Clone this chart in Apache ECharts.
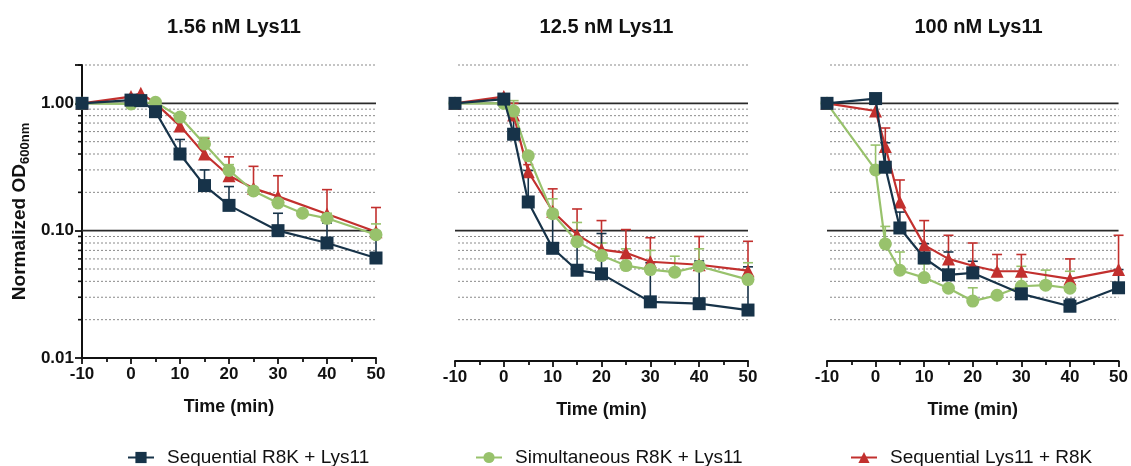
<!DOCTYPE html>
<html>
<head>
<meta charset="utf-8">
<script src="https://cdn.jsdelivr.net/npm/echarts@6/dist/echarts.min.js"></script>
<style>
  html, body { margin: 0; padding: 0; background: #fff; }
  #chart { width: 1131px; height: 466px; }
</style>
</head>
<body>
<div id="chart"></div>
<script>
// ---- Panel titles and series names ----
const panelTitles = ['1.56 nM Lys11', '12.5 nM Lys11', '100 nM Lys11'];
const seriesNames = ['Sequential R8K + Lys11', 'Simultaneous R8K + Lys11', 'Sequential Lys11 + R8K'];

// ---- Axis values ----
const xTickValues = [-10, 0, 10, 20, 30, 40, 50];
const yMajorLines = [0.1, 1];
const yMinorLines = [0.02, 0.03, 0.04, 0.05, 0.06, 0.07, 0.08, 0.09,
                     0.2, 0.3, 0.4, 0.5, 0.6, 0.7, 0.8, 0.9, 2];

// ---- 1.56 nM Lys11 ----
const p1SeqTime  = [-10, 0, 2, 5, 10, 15, 20, 30, 40, 50];
const p1SeqOD    = [1.00, 1.06, 1.05, 0.86, 0.40, 0.226, 0.158, 0.100, 0.080, 0.061];
const p1SeqTop   = [null, null, null, null, 0.52, 0.30, 0.222, 0.137, 0.115, 0.097];
const p1SimTime  = [-10, 0, 5, 10, 15, 20, 25, 30, 35, 40, 50];
const p1SimOD    = [1.00, 0.99, 1.02, 0.78, 0.48, 0.297, 0.205, 0.165, 0.137, 0.125, 0.093];
const p1SimTop   = [null, null, null, null, 0.54, 0.33, null, null, null, 0.137, 0.113];
const p1RevTime  = [-10, 0, 2, 5, 10, 15, 20, 25, 30, 40, 50];
const p1RevOD    = [1.00, 1.13, 1.20, 1.00, 0.665, 0.40, 0.27, 0.215, 0.186, 0.135, 0.098];
const p1RevTop   = [null, null, null, null, null, 0.53, 0.38, 0.32, 0.27, 0.21, 0.152];

// ---- 12.5 nM Lys11 ----
const p2SeqTime  = [-10, 0, 2, 5, 10, 15, 20, 30, 40, 50];
const p2SeqOD    = [1.00, 1.08, 0.572, 0.168, 0.0727, 0.0489, 0.0458, 0.0276, 0.0267, 0.0238];
const p2SeqTop   = [null, null, 0.91, 0.297, 0.144, 0.100, 0.095, 0.056, 0.0578, 0.052];
const p2SimTime  = [-10, 0, 2, 5, 10, 15, 20, 25, 30, 35, 40, 50];
const p2SimOD    = [1.00, 1.00, 0.87, 0.387, 0.136, 0.082, 0.0637, 0.0532, 0.0495, 0.0472, 0.0526, 0.0413];
const p2SimTop   = [null, null, 1.05, null, 0.178, 0.116, 0.080, 0.072, 0.070, 0.063, 0.072, 0.056];
const p2RevTime  = [-10, 0, 2, 5, 10, 15, 20, 25, 30, 40, 50];
const p2RevOD    = [1.00, 1.13, 0.81, 0.29, 0.142, 0.093, 0.071, 0.067, 0.057, 0.054, 0.0485];
const p2RevTop   = [null, null, 1.00, 0.33, 0.213, 0.148, 0.12, 0.102, 0.088, 0.09, 0.0825];

// ---- 100 nM Lys11 ----
const p3SeqTime  = [-10, 0, 2, 5, 10, 15, 20, 30, 40, 50];
const p3SeqOD    = [1.00, 1.09, 0.315, 0.105, 0.061, 0.045, 0.0466, 0.0319, 0.0255, 0.0356];
const p3SeqTop   = [null, null, 0.49, 0.14, 0.079, 0.068, 0.0575, 0.038, 0.029, 0.0495];
const p3SimTime  = [-10, 0, 2, 5, 10, 15, 20, 25, 30, 35, 40];
const p3SimOD    = [1.00, 0.30, 0.0787, 0.0489, 0.0428, 0.0353, 0.028, 0.0311, 0.0366, 0.0373, 0.0353];
const p3SimTop   = [null, 0.47, 0.108, 0.068, 0.055, null, 0.0356, null, 0.0525, 0.049, 0.048];
const p3RevTime  = [-10, 0, 2, 5, 10, 15, 20, 25, 30, 40, 50];
const p3RevOD    = [1.00, 0.87, 0.458, 0.168, 0.077, 0.060, 0.053, 0.048, 0.048, 0.0418, 0.0495];
const p3RevTop   = [null, null, 0.64, 0.25, 0.12, 0.092, 0.08, 0.065, 0.065, 0.06, 0.092];

const panels = [
  { seq: [p1SeqTime, p1SeqOD, p1SeqTop], sim: [p1SimTime, p1SimOD, p1SimTop], rev: [p1RevTime, p1RevOD, p1RevTop] },
  { seq: [p2SeqTime, p2SeqOD, p2SeqTop], sim: [p2SimTime, p2SimOD, p2SimTop], rev: [p2RevTime, p2RevOD, p2RevTop] },
  { seq: [p3SeqTime, p3SeqOD, p3SeqTop], sim: [p3SimTime, p3SimOD, p3SimTop], rev: [p3RevTime, p3RevOD, p3RevTop] }
];

// ---- Styling ----
const KEYS = ['seq', 'sim', 'rev'];
const COLORS = { seq: '#173349', sim: '#98c26c', rev: '#c2302e' };
const SYMBOLS = { seq: ['rect', 13], sim: ['circle', 13], rev: ['triangle', 13] };
const FONT = 'Liberation Sans, Arial, Helvetica, sans-serif';
const INK = '#111';

const gridBoxes = [
  { left: 82, top: 65, width: 294, height: 293 },
  { left: 455, top: 65, width: 293, height: 293 },
  { left: 827, top: 65, width: 293, height: 293 }
];
const xMin = xTickValues[0], xMax = xTickValues[xTickValues.length - 1];

function isDecade(v) {
  const l = Math.log10(v);
  return Math.abs(l - Math.round(l)) < 1e-9;
}

// Horizontal reference lines (solid at decades, dotted in between),
// plus the minor y ticks on the first panel's axis.
function gridLineSeries(idx) {
  const data = yMajorLines.map(v => [xMin, v, 1]).concat(yMinorLines.map(v => [xMin, v, 0]));
  return {
    type: 'custom', xAxisIndex: idx, yAxisIndex: idx, silent: true, z: 1, clip: false,
    data: data,
    renderItem: function (params, api) {
      const y = api.value(1), major = api.value(2) === 1;
      const a = api.coord([xMin, y]);
      const b = api.coord([xMax, y]);
      const children = [{
        type: 'line',
        shape: { x1: a[0] + (major ? 0 : 3), y1: a[1], x2: b[0], y2: b[1] },
        style: major
          ? { stroke: '#2a2a2a', lineWidth: 1.6 }
          : { stroke: '#8a8a8a', lineWidth: 1, lineDash: [2, 2] }
      }];
      if (idx === 0 && !major) {
        children.push({
          type: 'line',
          shape: { x1: a[0] - 4, y1: a[1], x2: a[0], y2: a[1] },
          style: { stroke: INK, lineWidth: 1.6 }
        });
      }
      return { type: 'group', children: children };
    }
  };
}

// Upper error bars with caps.
function errorSeries(idx, key, set) {
  const data = [];
  set[0].forEach((t, i) => { if (set[2][i] != null) data.push([t, set[1][i], set[2][i]]); });
  return {
    type: 'custom',
    xAxisIndex: idx, yAxisIndex: idx, silent: true, z: 3,
    data: data,
    renderItem: function (params, api) {
      const p = api.coord([api.value(0), api.value(1)]);
      const q = api.coord([api.value(0), api.value(2)]);
      const st = { stroke: COLORS[key], lineWidth: 1.6 };
      return {
        type: 'group',
        children: [
          { type: 'line', shape: { x1: p[0], y1: p[1], x2: q[0], y2: q[1] }, style: st },
          { type: 'line', shape: { x1: q[0] - 5, y1: q[1], x2: q[0] + 5, y2: q[1] }, style: st }
        ]
      };
    }
  };
}

function lineSeries(idx, key, set) {
  return {
    type: 'line', name: seriesNames[KEYS.indexOf(key)],
    xAxisIndex: idx, yAxisIndex: idx, z: key === 'seq' ? 6 : (key === 'sim' ? 5 : 4),
    data: set[0].map((t, i) => [t, set[1][i]]),
    symbol: SYMBOLS[key][0], symbolSize: SYMBOLS[key][1],
    itemStyle: { color: COLORS[key] },
    lineStyle: { color: COLORS[key], width: 2.2 },
    emphasis: { disabled: true },
    animation: false
  };
}

const series = [];
panels.forEach((p, idx) => {
  series.push(gridLineSeries(idx));
  ['rev', 'sim', 'seq'].forEach(k => series.push(errorSeries(idx, k, p[k])));
  ['rev', 'sim', 'seq'].forEach(k => series.push(lineSeries(idx, k, p[k])));
});

const option = {
  animation: false,
  textStyle: { fontFamily: FONT },
  title: panelTitles.map((t, i) => ({
    text: t,
    left: gridBoxes[i].left + gridBoxes[i].width / 2,
    textAlign: 'center',
    top: 12,
    textStyle: { fontFamily: FONT, fontSize: 20, fontWeight: 'bold', color: INK }
  })),
  legend: [
    { left: 122, data: [seriesNames[0]] },
    { left: 470, data: [seriesNames[1]] },
    { left: 845, data: [seriesNames[2]] }
  ].map(l => Object.assign({
    top: 443, itemWidth: 26, itemHeight: 14, selectedMode: false,
    textStyle: { fontFamily: FONT, fontSize: 19, color: INK, padding: [0, 0, 0, 8] }
  }, l)),
  grid: gridBoxes,
  xAxis: gridBoxes.map((g, i) => ({
    type: 'value', gridIndex: i, min: xMin, max: xMax, interval: 10,
    offset: i === 0 ? 0 : 3,
    name: 'Time (min)', nameLocation: 'middle', nameGap: 40,
    nameTextStyle: { fontFamily: FONT, fontSize: 18, fontWeight: 'bold', color: INK },
    axisLine: { onZero: false, lineStyle: { color: INK, width: 2 } },
    axisTick: { show: true, length: 6, lineStyle: { color: INK, width: 1.8 } },
    minorTick: { show: true, splitNumber: 2, length: 4, lineStyle: { color: INK, width: 1.8 } },
    splitLine: { show: false },
    axisLabel: { fontFamily: FONT, fontSize: 17, fontWeight: 'bold', color: INK, margin: 8 }
  })),
  yAxis: gridBoxes.map((g, i) => ({
    type: 'log', logBase: 10, gridIndex: i, min: 0.01, max: 2,
    show: i === 0,
    name: i === 0 ? 'Normalized OD{sub|600nm}' : '',
    nameLocation: 'middle', nameGap: 50, nameRotate: 90,
    nameTextStyle: {
      fontFamily: FONT, fontSize: 19, fontWeight: 'bold', color: INK, lineHeight: 24,
      rich: { sub: { fontFamily: FONT, fontSize: 13, fontWeight: 'bold', color: INK, lineHeight: 12, verticalAlign: 'bottom' } }
    },
    axisLine: { show: true, onZero: false, lineStyle: { color: INK, width: 2 } },
    axisTick: { show: true, length: 7, lineStyle: { color: INK, width: 1.8 } },
    splitLine: { show: false },
    axisLabel: {
      fontFamily: FONT, fontSize: 17, fontWeight: 'bold', color: INK, margin: 8,
      formatter: v => (isDecade(v) ? v.toFixed(2) : '')
    }
  })),
  series: series
};

const chart = echarts.init(document.getElementById('chart'), null, { renderer: 'canvas' });
chart.setOption(option);
</script>
</body>
</html>
